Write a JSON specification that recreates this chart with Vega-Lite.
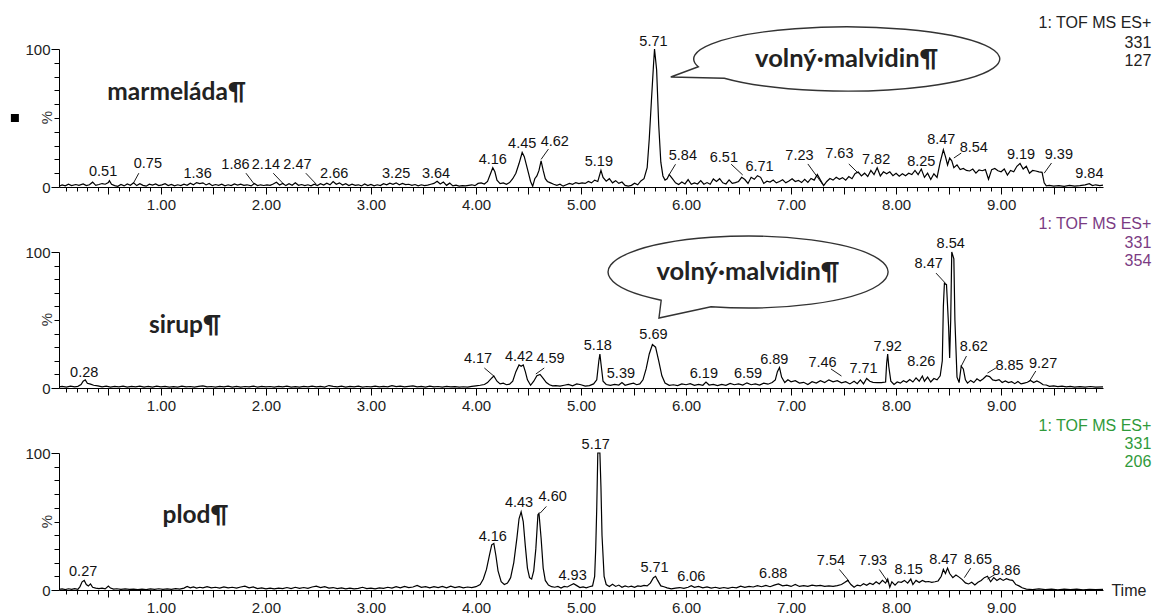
{
  "$schema": "https://vega.github.io/schema/vega-lite/v6.json",
  "background": "white",
  "padding": {"left": 10, "top": 15, "right": 0, "bottom": 0},
  "spacing": 65,
  "bounds": "flush",
  "config": {
    "view": {"stroke": null},
    "axis": {
      "grid": false,
      "domainColor": "#000",
      "tickColor": "#000",
      "labelFont": "Liberation Sans",
      "labelFontSize": 15,
      "labelColor": "#222",
      "titleFont": "Liberation Sans",
      "titleFontWeight": "normal",
      "titleColor": "#333"
    }
  },
  "datasets": {
    "p1": [
      {"t":0.03,"v":0.5},{"t":0.06,"v":1.5},{"t":0.09,"v":0.8},{"t":0.12,"v":2.0},{"t":0.15,"v":1.0},{"t":0.19,"v":1.8},{"t":0.22,"v":1.2},{"t":0.26,"v":2.2},{"t":0.29,"v":1.0},{"t":0.32,"v":1.6},{"t":0.35,"v":3.5},{"t":0.38,"v":1.2},{"t":0.41,"v":1.8},{"t":0.44,"v":2.5},{"t":0.47,"v":2.0},{"t":0.50,"v":3.2},{"t":0.51,"v":4.5},{"t":0.53,"v":2.0},{"t":0.56,"v":1.0},{"t":0.59,"v":0.5},{"t":0.62,"v":1.8},{"t":0.65,"v":0.8},{"t":0.68,"v":2.2},{"t":0.71,"v":1.2},{"t":0.74,"v":3.0},{"t":0.77,"v":1.0},{"t":0.80,"v":2.4},{"t":0.83,"v":1.2},{"t":0.86,"v":0.6},{"t":0.89,"v":2.0},{"t":0.92,"v":1.4},{"t":0.95,"v":2.2},{"t":0.98,"v":1.0},
      {"t":1.01,"v":1.5},{"t":1.04,"v":2.4},{"t":1.07,"v":1.0},{"t":1.10,"v":1.8},{"t":1.13,"v":0.8},{"t":1.16,"v":1.6},{"t":1.19,"v":1.0},{"t":1.22,"v":2.0},{"t":1.25,"v":1.2},{"t":1.28,"v":2.8},{"t":1.31,"v":1.6},{"t":1.34,"v":3.2},{"t":1.37,"v":2.5},{"t":1.40,"v":3.0},{"t":1.43,"v":1.5},{"t":1.46,"v":2.6},{"t":1.49,"v":1.0},{"t":1.52,"v":1.8},{"t":1.55,"v":1.2},{"t":1.58,"v":2.0},{"t":1.61,"v":0.9},{"t":1.64,"v":1.6},{"t":1.67,"v":1.0},{"t":1.70,"v":2.2},{"t":1.73,"v":1.4},{"t":1.76,"v":2.0},{"t":1.79,"v":1.2},{"t":1.82,"v":1.6},{"t":1.86,"v":0.8},{"t":1.89,"v":2.5},{"t":1.92,"v":1.0},{"t":1.95,"v":1.6},{"t":1.98,"v":1.1},
      {"t":2.01,"v":1.5},{"t":2.04,"v":1.2},{"t":2.07,"v":2.2},{"t":2.10,"v":3.4},{"t":2.13,"v":1.5},{"t":2.16,"v":2.6},{"t":2.19,"v":1.0},{"t":2.22,"v":2.4},{"t":2.25,"v":1.2},{"t":2.28,"v":3.0},{"t":2.31,"v":1.2},{"t":2.34,"v":1.8},{"t":2.37,"v":1.0},{"t":2.40,"v":1.6},{"t":2.43,"v":0.8},{"t":2.46,"v":2.0},{"t":2.49,"v":1.0},{"t":2.52,"v":2.4},{"t":2.55,"v":1.4},{"t":2.58,"v":2.8},{"t":2.61,"v":1.6},{"t":2.64,"v":4.0},{"t":2.67,"v":2.0},{"t":2.70,"v":3.0},{"t":2.73,"v":1.4},{"t":2.76,"v":2.4},{"t":2.79,"v":1.0},{"t":2.82,"v":2.0},{"t":2.85,"v":1.2},{"t":2.88,"v":1.6},{"t":2.91,"v":0.8},{"t":2.94,"v":2.2},{"t":2.97,"v":1.0},
      {"t":3.00,"v":1.8},{"t":3.03,"v":0.8},{"t":3.06,"v":1.6},{"t":3.09,"v":1.0},{"t":3.12,"v":2.4},{"t":3.15,"v":1.6},{"t":3.18,"v":2.8},{"t":3.21,"v":2.0},{"t":3.24,"v":3.0},{"t":3.27,"v":1.6},{"t":3.30,"v":2.6},{"t":3.33,"v":1.8},{"t":3.36,"v":2.0},{"t":3.39,"v":1.2},{"t":3.42,"v":1.8},{"t":3.45,"v":0.8},{"t":3.48,"v":1.6},{"t":3.51,"v":1.0},{"t":3.54,"v":1.4},{"t":3.57,"v":2.0},{"t":3.60,"v":2.6},{"t":3.63,"v":4.2},{"t":3.66,"v":2.2},{"t":3.69,"v":3.6},{"t":3.72,"v":1.2},{"t":3.75,"v":2.8},{"t":3.78,"v":0.8},{"t":3.81,"v":1.4},{"t":3.84,"v":0.6},{"t":3.87,"v":1.0},{"t":3.90,"v":0.8},{"t":3.93,"v":1.2},{"t":3.96,"v":1.6},{"t":3.99,"v":1.0},
      {"t":4.02,"v":2.6},{"t":4.05,"v":3.0},{"t":4.08,"v":2.2},{"t":4.11,"v":4.0},{"t":4.14,"v":10.0},{"t":4.16,"v":14.0},{"t":4.18,"v":11.0},{"t":4.20,"v":5.0},{"t":4.23,"v":2.5},{"t":4.26,"v":3.0},{"t":4.29,"v":2.0},{"t":4.32,"v":3.2},{"t":4.35,"v":6.0},{"t":4.38,"v":10.0},{"t":4.41,"v":17.0},{"t":4.44,"v":25.0},{"t":4.46,"v":22.0},{"t":4.48,"v":16.0},{"t":4.50,"v":10.0},{"t":4.52,"v":4.0},{"t":4.54,"v":0.5},{"t":4.56,"v":6.0},{"t":4.58,"v":8.0},{"t":4.60,"v":12.0},{"t":4.62,"v":19.0},{"t":4.64,"v":12.0},{"t":4.66,"v":6.0},{"t":4.68,"v":4.0},{"t":4.71,"v":3.0},{"t":4.74,"v":2.0},{"t":4.77,"v":1.2},{"t":4.80,"v":2.0},{"t":4.83,"v":0.6},{"t":4.86,"v":1.6},{"t":4.89,"v":2.6},{"t":4.92,"v":2.0},{"t":4.95,"v":3.2},{"t":4.98,"v":2.4},
      {"t":5.01,"v":3.0},{"t":5.04,"v":2.6},{"t":5.07,"v":4.0},{"t":5.10,"v":3.0},{"t":5.13,"v":5.0},{"t":5.16,"v":4.0},{"t":5.19,"v":12.0},{"t":5.21,"v":7.0},{"t":5.24,"v":4.2},{"t":5.27,"v":6.0},{"t":5.30,"v":3.0},{"t":5.33,"v":4.6},{"t":5.36,"v":2.6},{"t":5.39,"v":3.6},{"t":5.42,"v":1.2},{"t":5.45,"v":0.6},{"t":5.48,"v":1.2},{"t":5.51,"v":2.8},{"t":5.54,"v":1.6},{"t":5.57,"v":4.4},{"t":5.60,"v":6.0},{"t":5.63,"v":14.0},{"t":5.65,"v":35.0},{"t":5.67,"v":62.0},{"t":5.69,"v":88.0},{"t":5.70,"v":100.0},{"t":5.72,"v":85.0},{"t":5.74,"v":45.0},{"t":5.76,"v":18.0},{"t":5.78,"v":8.0},{"t":5.80,"v":5.0},{"t":5.82,"v":6.0},{"t":5.84,"v":9.0},{"t":5.87,"v":6.0},{"t":5.90,"v":3.0},{"t":5.93,"v":1.8},{"t":5.96,"v":3.6},{"t":5.99,"v":2.2},
      {"t":6.02,"v":5.4},{"t":6.05,"v":2.0},{"t":6.08,"v":3.0},{"t":6.11,"v":2.2},{"t":6.14,"v":4.6},{"t":6.17,"v":2.0},{"t":6.20,"v":3.2},{"t":6.23,"v":2.0},{"t":6.26,"v":5.8},{"t":6.29,"v":4.0},{"t":6.32,"v":6.0},{"t":6.35,"v":3.0},{"t":6.38,"v":2.2},{"t":6.41,"v":5.2},{"t":6.44,"v":2.6},{"t":6.47,"v":3.2},{"t":6.50,"v":4.0},{"t":6.53,"v":7.0},{"t":6.56,"v":5.4},{"t":6.59,"v":2.6},{"t":6.62,"v":7.0},{"t":6.65,"v":5.6},{"t":6.68,"v":8.2},{"t":6.71,"v":7.0},{"t":6.74,"v":2.6},{"t":6.77,"v":4.2},{"t":6.80,"v":3.6},{"t":6.83,"v":5.0},{"t":6.86,"v":3.0},{"t":6.89,"v":4.0},{"t":6.92,"v":5.2},{"t":6.95,"v":3.0},{"t":6.98,"v":4.4},
      {"t":7.01,"v":6.0},{"t":7.04,"v":4.0},{"t":7.07,"v":4.8},{"t":7.10,"v":3.2},{"t":7.13,"v":5.6},{"t":7.16,"v":3.4},{"t":7.19,"v":6.2},{"t":7.22,"v":5.0},{"t":7.25,"v":9.0},{"t":7.28,"v":5.0},{"t":7.31,"v":1.0},{"t":7.34,"v":4.0},{"t":7.37,"v":6.2},{"t":7.40,"v":5.0},{"t":7.43,"v":7.0},{"t":7.46,"v":5.6},{"t":7.49,"v":6.8},{"t":7.52,"v":5.0},{"t":7.55,"v":7.6},{"t":7.58,"v":6.0},{"t":7.61,"v":9.8},{"t":7.64,"v":10.8},{"t":7.67,"v":8.0},{"t":7.70,"v":10.0},{"t":7.73,"v":7.6},{"t":7.76,"v":12.0},{"t":7.79,"v":9.0},{"t":7.82,"v":14.0},{"t":7.85,"v":8.0},{"t":7.88,"v":11.0},{"t":7.91,"v":9.6},{"t":7.94,"v":11.0},{"t":7.97,"v":8.2},
      {"t":8.00,"v":10.0},{"t":8.03,"v":7.8},{"t":8.06,"v":9.6},{"t":8.09,"v":8.2},{"t":8.12,"v":10.0},{"t":8.15,"v":9.0},{"t":8.18,"v":12.0},{"t":8.21,"v":9.0},{"t":8.24,"v":13.0},{"t":8.27,"v":7.0},{"t":8.30,"v":10.0},{"t":8.33,"v":5.4},{"t":8.36,"v":9.6},{"t":8.39,"v":7.0},{"t":8.42,"v":18.0},{"t":8.45,"v":27.0},{"t":8.47,"v":22.0},{"t":8.49,"v":16.0},{"t":8.51,"v":21.0},{"t":8.53,"v":19.0},{"t":8.55,"v":14.0},{"t":8.58,"v":16.0},{"t":8.61,"v":12.6},{"t":8.64,"v":13.4},{"t":8.67,"v":12.0},{"t":8.70,"v":11.6},{"t":8.73,"v":13.0},{"t":8.76,"v":10.0},{"t":8.79,"v":12.4},{"t":8.82,"v":11.8},{"t":8.85,"v":12.6},{"t":8.88,"v":5.6},{"t":8.91,"v":12.6},{"t":8.94,"v":13.4},{"t":8.97,"v":11.8},
      {"t":9.00,"v":11.0},{"t":9.03,"v":13.0},{"t":9.06,"v":8.6},{"t":9.09,"v":12.0},{"t":9.12,"v":11.0},{"t":9.15,"v":15.0},{"t":9.18,"v":17.0},{"t":9.21,"v":13.0},{"t":9.24,"v":15.0},{"t":9.27,"v":10.0},{"t":9.30,"v":12.0},{"t":9.33,"v":11.6},{"t":9.36,"v":11.0},{"t":9.39,"v":10.6},{"t":9.41,"v":3.0},{"t":9.43,"v":0.8},{"t":9.46,"v":1.2},{"t":9.50,"v":0.6},{"t":9.55,"v":1.0},{"t":9.60,"v":0.4},{"t":9.65,"v":1.2},{"t":9.70,"v":0.6},{"t":9.75,"v":1.0},{"t":9.80,"v":1.6},{"t":9.84,"v":2.4},{"t":9.87,"v":1.0},{"t":9.90,"v":1.6},{"t":9.94,"v":1.0},{"t":9.97,"v":1.4}
    ],
    "p2": [
      {"t":0.03,"v":0.8},{"t":0.06,"v":1.2},{"t":0.10,"v":0.6},{"t":0.14,"v":1.4},{"t":0.18,"v":0.8},{"t":0.21,"v":1.2},{"t":0.24,"v":2.5},{"t":0.26,"v":5.0},{"t":0.28,"v":6.0},{"t":0.30,"v":3.5},{"t":0.33,"v":2.8},{"t":0.36,"v":2.0},{"t":0.40,"v":1.5},{"t":0.44,"v":0.8},{"t":0.48,"v":1.4},{"t":0.52,"v":0.6},{"t":0.56,"v":1.2},{"t":0.60,"v":0.8},{"t":0.64,"v":1.4},{"t":0.68,"v":0.6},{"t":0.72,"v":1.2},{"t":0.76,"v":0.8},{"t":0.80,"v":1.4},{"t":0.84,"v":0.7},{"t":0.88,"v":1.2},{"t":0.92,"v":0.6},{"t":0.96,"v":1.3},
      {"t":1.00,"v":0.8},{"t":1.04,"v":1.2},{"t":1.08,"v":0.6},{"t":1.12,"v":1.0},{"t":1.16,"v":0.7},{"t":1.20,"v":1.3},{"t":1.24,"v":0.8},{"t":1.28,"v":1.1},{"t":1.32,"v":0.6},{"t":1.36,"v":1.2},{"t":1.40,"v":1.6},{"t":1.44,"v":0.8},{"t":1.48,"v":1.1},{"t":1.52,"v":0.6},{"t":1.56,"v":1.2},{"t":1.60,"v":0.8},{"t":1.64,"v":1.3},{"t":1.68,"v":0.7},{"t":1.72,"v":1.2},{"t":1.76,"v":0.6},{"t":1.80,"v":1.1},{"t":1.84,"v":0.8},{"t":1.88,"v":1.4},{"t":1.92,"v":0.7},{"t":1.96,"v":1.2},
      {"t":2.00,"v":0.8},{"t":2.04,"v":1.1},{"t":2.08,"v":0.6},{"t":2.12,"v":1.2},{"t":2.16,"v":0.8},{"t":2.20,"v":1.3},{"t":2.24,"v":0.7},{"t":2.28,"v":1.0},{"t":2.32,"v":0.6},{"t":2.36,"v":1.2},{"t":2.40,"v":0.8},{"t":2.44,"v":1.4},{"t":2.48,"v":0.9},{"t":2.52,"v":1.2},{"t":2.56,"v":0.7},{"t":2.60,"v":1.8},{"t":2.64,"v":1.2},{"t":2.68,"v":0.8},{"t":2.72,"v":1.3},{"t":2.76,"v":0.7},{"t":2.80,"v":1.2},{"t":2.84,"v":0.8},{"t":2.88,"v":1.4},{"t":2.92,"v":0.7},{"t":2.96,"v":1.1},
      {"t":3.00,"v":0.8},{"t":3.04,"v":1.3},{"t":3.08,"v":0.8},{"t":3.12,"v":1.2},{"t":3.16,"v":0.9},{"t":3.20,"v":1.8},{"t":3.24,"v":1.0},{"t":3.28,"v":1.4},{"t":3.32,"v":0.8},{"t":3.36,"v":1.2},{"t":3.40,"v":1.6},{"t":3.44,"v":0.8},{"t":3.48,"v":1.2},{"t":3.52,"v":0.7},{"t":3.56,"v":1.3},{"t":3.60,"v":0.8},{"t":3.64,"v":1.1},{"t":3.68,"v":0.6},{"t":3.72,"v":1.2},{"t":3.76,"v":0.8},{"t":3.80,"v":1.0},{"t":3.84,"v":0.6},{"t":3.88,"v":0.9},{"t":3.92,"v":0.7},{"t":3.96,"v":1.2},
      {"t":4.00,"v":1.6},{"t":4.04,"v":2.0},{"t":4.08,"v":2.6},{"t":4.11,"v":4.0},{"t":4.14,"v":6.5},{"t":4.17,"v":8.8},{"t":4.20,"v":5.0},{"t":4.23,"v":3.0},{"t":4.26,"v":3.6},{"t":4.29,"v":2.4},{"t":4.32,"v":2.8},{"t":4.35,"v":5.0},{"t":4.38,"v":12.0},{"t":4.41,"v":17.0},{"t":4.43,"v":16.0},{"t":4.45,"v":17.0},{"t":4.47,"v":12.0},{"t":4.49,"v":6.0},{"t":4.52,"v":2.0},{"t":4.55,"v":5.0},{"t":4.58,"v":9.0},{"t":4.61,"v":10.0},{"t":4.64,"v":7.0},{"t":4.67,"v":4.0},{"t":4.70,"v":2.4},{"t":4.73,"v":1.6},{"t":4.76,"v":1.8},{"t":4.80,"v":1.4},{"t":4.84,"v":2.0},{"t":4.88,"v":2.6},{"t":4.92,"v":1.6},{"t":4.96,"v":3.0},
      {"t":5.00,"v":2.4},{"t":5.04,"v":1.4},{"t":5.08,"v":1.8},{"t":5.12,"v":3.0},{"t":5.15,"v":6.0},{"t":5.17,"v":20.0},{"t":5.18,"v":25.0},{"t":5.19,"v":18.0},{"t":5.21,"v":5.0},{"t":5.24,"v":2.6},{"t":5.28,"v":2.0},{"t":5.32,"v":2.6},{"t":5.36,"v":2.2},{"t":5.39,"v":4.0},{"t":5.42,"v":2.0},{"t":5.46,"v":2.8},{"t":5.50,"v":3.6},{"t":5.53,"v":2.4},{"t":5.56,"v":3.0},{"t":5.59,"v":6.0},{"t":5.62,"v":14.0},{"t":5.65,"v":25.0},{"t":5.68,"v":32.0},{"t":5.71,"v":30.0},{"t":5.74,"v":20.0},{"t":5.77,"v":9.0},{"t":5.80,"v":3.6},{"t":5.84,"v":2.0},{"t":5.88,"v":2.4},{"t":5.92,"v":1.8},{"t":5.96,"v":3.0},
      {"t":6.00,"v":2.4},{"t":6.04,"v":3.2},{"t":6.08,"v":2.0},{"t":6.12,"v":2.6},{"t":6.16,"v":2.0},{"t":6.19,"v":4.4},{"t":6.22,"v":2.2},{"t":6.26,"v":2.6},{"t":6.30,"v":1.8},{"t":6.34,"v":2.6},{"t":6.38,"v":2.0},{"t":6.42,"v":3.4},{"t":6.46,"v":2.4},{"t":6.50,"v":3.0},{"t":6.54,"v":2.2},{"t":6.58,"v":3.8},{"t":6.62,"v":2.4},{"t":6.66,"v":3.0},{"t":6.70,"v":2.2},{"t":6.74,"v":3.6},{"t":6.78,"v":2.8},{"t":6.82,"v":4.0},{"t":6.85,"v":6.0},{"t":6.87,"v":12.0},{"t":6.89,"v":15.0},{"t":6.91,"v":8.0},{"t":6.94,"v":4.0},{"t":6.97,"v":6.0},
      {"t":7.00,"v":4.6},{"t":7.04,"v":5.4},{"t":7.08,"v":3.6},{"t":7.12,"v":4.2},{"t":7.16,"v":2.6},{"t":7.20,"v":4.6},{"t":7.24,"v":3.6},{"t":7.28,"v":5.4},{"t":7.32,"v":4.0},{"t":7.36,"v":6.0},{"t":7.40,"v":4.6},{"t":7.44,"v":5.4},{"t":7.48,"v":3.8},{"t":7.52,"v":4.6},{"t":7.56,"v":3.0},{"t":7.60,"v":5.0},{"t":7.63,"v":3.2},{"t":7.66,"v":6.0},{"t":7.69,"v":3.0},{"t":7.72,"v":7.0},{"t":7.75,"v":5.0},{"t":7.78,"v":4.2},{"t":7.82,"v":4.0},{"t":7.86,"v":4.0},{"t":7.90,"v":4.4},{"t":7.91,"v":18.0},{"t":7.92,"v":25.0},{"t":7.93,"v":16.0},{"t":7.95,"v":5.0},{"t":7.98,"v":2.6},
      {"t":8.01,"v":4.4},{"t":8.04,"v":3.6},{"t":8.07,"v":5.4},{"t":8.10,"v":4.2},{"t":8.13,"v":6.2},{"t":8.16,"v":4.4},{"t":8.19,"v":7.4},{"t":8.22,"v":5.0},{"t":8.25,"v":8.8},{"t":8.27,"v":5.0},{"t":8.30,"v":8.0},{"t":8.33,"v":4.4},{"t":8.36,"v":7.0},{"t":8.39,"v":6.0},{"t":8.42,"v":9.0},{"t":8.44,"v":20.0},{"t":8.45,"v":60.0},{"t":8.46,"v":77.0},{"t":8.48,"v":76.0},{"t":8.50,"v":45.0},{"t":8.51,"v":22.0},{"t":8.52,"v":50.0},{"t":8.53,"v":100.0},{"t":8.55,"v":95.0},{"t":8.56,"v":50.0},{"t":8.58,"v":8.0},{"t":8.60,"v":4.0},{"t":8.62,"v":16.0},{"t":8.64,"v":14.0},{"t":8.66,"v":6.0},{"t":8.68,"v":3.6},{"t":8.71,"v":5.6},{"t":8.74,"v":4.0},{"t":8.77,"v":6.8},{"t":8.80,"v":5.2},{"t":8.83,"v":6.8},{"t":8.86,"v":9.0},{"t":8.89,"v":8.4},{"t":8.92,"v":6.0},{"t":8.95,"v":5.4},{"t":8.98,"v":6.2},
      {"t":9.01,"v":4.0},{"t":9.04,"v":5.2},{"t":9.07,"v":4.0},{"t":9.10,"v":4.6},{"t":9.13,"v":3.2},{"t":9.16,"v":4.8},{"t":9.19,"v":3.0},{"t":9.22,"v":3.6},{"t":9.25,"v":4.2},{"t":9.28,"v":5.6},{"t":9.31,"v":4.0},{"t":9.34,"v":5.2},{"t":9.37,"v":4.0},{"t":9.40,"v":2.4},{"t":9.43,"v":2.2},{"t":9.46,"v":1.2},{"t":9.50,"v":1.6},{"t":9.54,"v":1.0},{"t":9.58,"v":1.4},{"t":9.62,"v":0.8},{"t":9.66,"v":1.2},{"t":9.70,"v":0.6},{"t":9.75,"v":1.0},{"t":9.80,"v":0.6},{"t":9.85,"v":1.1},{"t":9.90,"v":0.6},{"t":9.97,"v":0.8}
    ],
    "p3": [
      {"t":0.03,"v":0.4},{"t":0.06,"v":0.8},{"t":0.09,"v":0.3},{"t":0.12,"v":0.9},{"t":0.15,"v":0.4},{"t":0.18,"v":1.0},{"t":0.21,"v":0.5},{"t":0.23,"v":2.5},{"t":0.25,"v":6.0},{"t":0.27,"v":7.0},{"t":0.29,"v":4.0},{"t":0.31,"v":3.0},{"t":0.33,"v":4.5},{"t":0.35,"v":2.0},{"t":0.38,"v":1.4},{"t":0.41,"v":1.0},{"t":0.44,"v":1.4},{"t":0.47,"v":0.8},{"t":0.50,"v":2.8},{"t":0.52,"v":1.4},{"t":0.55,"v":0.6},{"t":0.58,"v":0.9},{"t":0.62,"v":0.4},{"t":0.66,"v":0.8},{"t":0.70,"v":0.4},{"t":0.74,"v":0.7},{"t":0.78,"v":0.3},{"t":0.82,"v":0.6},{"t":0.86,"v":0.3},{"t":0.90,"v":0.8},{"t":0.94,"v":0.4},{"t":0.98,"v":0.9},
      {"t":1.02,"v":0.4},{"t":1.06,"v":0.8},{"t":1.10,"v":0.5},{"t":1.14,"v":1.0},{"t":1.18,"v":0.6},{"t":1.22,"v":1.4},{"t":1.25,"v":2.6},{"t":1.28,"v":1.6},{"t":1.31,"v":2.2},{"t":1.34,"v":1.4},{"t":1.37,"v":2.0},{"t":1.40,"v":1.6},{"t":1.44,"v":2.4},{"t":1.48,"v":1.6},{"t":1.52,"v":2.0},{"t":1.56,"v":1.4},{"t":1.60,"v":2.2},{"t":1.64,"v":1.6},{"t":1.68,"v":2.0},{"t":1.72,"v":1.4},{"t":1.76,"v":2.2},{"t":1.80,"v":2.8},{"t":1.84,"v":1.6},{"t":1.88,"v":2.2},{"t":1.92,"v":1.0},{"t":1.96,"v":1.6},
      {"t":2.00,"v":0.8},{"t":2.04,"v":1.4},{"t":2.08,"v":0.8},{"t":2.12,"v":1.4},{"t":2.16,"v":1.0},{"t":2.20,"v":1.8},{"t":2.24,"v":1.0},{"t":2.28,"v":2.0},{"t":2.32,"v":1.2},{"t":2.36,"v":1.8},{"t":2.40,"v":1.2},{"t":2.44,"v":2.2},{"t":2.48,"v":2.8},{"t":2.52,"v":1.8},{"t":2.56,"v":2.4},{"t":2.60,"v":1.4},{"t":2.64,"v":1.8},{"t":2.68,"v":1.0},{"t":2.72,"v":1.6},{"t":2.76,"v":0.8},{"t":2.80,"v":1.4},{"t":2.84,"v":0.8},{"t":2.88,"v":1.2},{"t":2.92,"v":2.0},{"t":2.96,"v":1.0},
      {"t":3.00,"v":1.4},{"t":3.04,"v":0.8},{"t":3.08,"v":1.6},{"t":3.12,"v":1.2},{"t":3.16,"v":2.0},{"t":3.20,"v":1.4},{"t":3.24,"v":2.4},{"t":3.28,"v":1.6},{"t":3.32,"v":2.6},{"t":3.36,"v":1.8},{"t":3.40,"v":2.2},{"t":3.44,"v":3.4},{"t":3.48,"v":2.0},{"t":3.52,"v":2.4},{"t":3.56,"v":1.6},{"t":3.60,"v":2.4},{"t":3.64,"v":1.8},{"t":3.68,"v":2.6},{"t":3.72,"v":1.6},{"t":3.76,"v":2.8},{"t":3.80,"v":1.8},{"t":3.84,"v":2.4},{"t":3.88,"v":1.6},{"t":3.92,"v":2.2},{"t":3.96,"v":1.8},
      {"t":4.00,"v":2.4},{"t":4.04,"v":4.0},{"t":4.07,"v":8.0},{"t":4.10,"v":15.0},{"t":4.13,"v":26.0},{"t":4.15,"v":33.0},{"t":4.17,"v":34.0},{"t":4.19,"v":25.0},{"t":4.21,"v":14.0},{"t":4.24,"v":6.0},{"t":4.27,"v":4.0},{"t":4.30,"v":5.0},{"t":4.33,"v":9.0},{"t":4.36,"v":20.0},{"t":4.39,"v":38.0},{"t":4.41,"v":52.0},{"t":4.43,"v":57.0},{"t":4.45,"v":50.0},{"t":4.47,"v":32.0},{"t":4.49,"v":16.0},{"t":4.51,"v":9.0},{"t":4.53,"v":8.0},{"t":4.55,"v":14.0},{"t":4.57,"v":30.0},{"t":4.59,"v":55.0},{"t":4.60,"v":56.0},{"t":4.62,"v":38.0},{"t":4.64,"v":16.0},{"t":4.66,"v":7.0},{"t":4.69,"v":3.6},{"t":4.72,"v":2.4},{"t":4.75,"v":2.0},{"t":4.78,"v":2.6},{"t":4.81,"v":1.4},{"t":4.84,"v":2.6},{"t":4.87,"v":2.2},{"t":4.90,"v":3.4},{"t":4.93,"v":4.6},{"t":4.96,"v":3.2},{"t":4.99,"v":1.8},
      {"t":5.02,"v":2.2},{"t":5.05,"v":1.6},{"t":5.08,"v":2.4},{"t":5.11,"v":3.0},{"t":5.13,"v":10.0},{"t":5.14,"v":30.0},{"t":5.15,"v":60.0},{"t":5.16,"v":100.0},{"t":5.18,"v":100.0},{"t":5.19,"v":75.0},{"t":5.20,"v":40.0},{"t":5.22,"v":10.0},{"t":5.24,"v":4.0},{"t":5.27,"v":2.6},{"t":5.30,"v":4.2},{"t":5.33,"v":2.6},{"t":5.36,"v":3.6},{"t":5.39,"v":2.0},{"t":5.42,"v":3.0},{"t":5.45,"v":2.2},{"t":5.48,"v":2.8},{"t":5.51,"v":2.0},{"t":5.54,"v":3.0},{"t":5.57,"v":2.6},{"t":5.60,"v":3.4},{"t":5.63,"v":3.0},{"t":5.66,"v":5.0},{"t":5.69,"v":9.0},{"t":5.71,"v":10.0},{"t":5.73,"v":7.0},{"t":5.76,"v":3.0},{"t":5.79,"v":2.4},{"t":5.82,"v":1.6},{"t":5.86,"v":0.8},{"t":5.90,"v":1.4},{"t":5.94,"v":1.8},{"t":5.98,"v":1.2},
      {"t":6.02,"v":2.0},{"t":6.05,"v":3.2},{"t":6.08,"v":2.0},{"t":6.12,"v":2.6},{"t":6.16,"v":1.6},{"t":6.20,"v":2.2},{"t":6.24,"v":1.4},{"t":6.28,"v":2.0},{"t":6.32,"v":1.2},{"t":6.36,"v":1.8},{"t":6.40,"v":1.2},{"t":6.44,"v":2.0},{"t":6.48,"v":1.6},{"t":6.52,"v":2.8},{"t":6.56,"v":2.0},{"t":6.60,"v":2.6},{"t":6.64,"v":2.2},{"t":6.68,"v":3.2},{"t":6.72,"v":2.4},{"t":6.76,"v":3.4},{"t":6.80,"v":2.4},{"t":6.84,"v":3.6},{"t":6.88,"v":4.4},{"t":6.92,"v":3.0},{"t":6.96,"v":3.6},
      {"t":7.00,"v":2.6},{"t":7.04,"v":4.0},{"t":7.08,"v":2.6},{"t":7.12,"v":3.2},{"t":7.16,"v":2.6},{"t":7.20,"v":3.6},{"t":7.24,"v":3.0},{"t":7.28,"v":3.4},{"t":7.32,"v":2.6},{"t":7.36,"v":3.0},{"t":7.40,"v":2.6},{"t":7.44,"v":3.2},{"t":7.48,"v":4.0},{"t":7.51,"v":5.4},{"t":7.54,"v":7.0},{"t":7.57,"v":4.0},{"t":7.60,"v":2.0},{"t":7.63,"v":3.6},{"t":7.66,"v":3.0},{"t":7.69,"v":4.6},{"t":7.72,"v":3.4},{"t":7.75,"v":5.0},{"t":7.78,"v":4.0},{"t":7.81,"v":6.0},{"t":7.84,"v":4.4},{"t":7.87,"v":7.0},{"t":7.90,"v":5.0},{"t":7.92,"v":8.0},{"t":7.94,"v":2.0},{"t":7.96,"v":6.0},{"t":7.99,"v":3.6},
      {"t":8.02,"v":6.0},{"t":8.05,"v":5.6},{"t":8.08,"v":7.0},{"t":8.11,"v":5.0},{"t":8.14,"v":8.0},{"t":8.16,"v":4.0},{"t":8.19,"v":7.0},{"t":8.22,"v":5.4},{"t":8.25,"v":7.0},{"t":8.28,"v":6.0},{"t":8.31,"v":6.2},{"t":8.34,"v":5.6},{"t":8.37,"v":6.0},{"t":8.40,"v":6.6},{"t":8.43,"v":10.0},{"t":8.45,"v":15.0},{"t":8.47,"v":12.0},{"t":8.49,"v":16.0},{"t":8.51,"v":12.0},{"t":8.54,"v":9.0},{"t":8.57,"v":11.0},{"t":8.60,"v":9.4},{"t":8.63,"v":7.6},{"t":8.66,"v":5.2},{"t":8.69,"v":4.4},{"t":8.72,"v":5.6},{"t":8.75,"v":3.6},{"t":8.78,"v":5.6},{"t":8.81,"v":7.0},{"t":8.84,"v":9.0},{"t":8.87,"v":10.0},{"t":8.90,"v":6.0},{"t":8.93,"v":9.0},{"t":8.96,"v":7.0},{"t":8.99,"v":8.4},
      {"t":9.02,"v":7.0},{"t":9.05,"v":8.2},{"t":9.08,"v":7.4},{"t":9.11,"v":7.0},{"t":9.14,"v":4.0},{"t":9.17,"v":3.0},{"t":9.20,"v":1.6},{"t":9.24,"v":0.6},{"t":9.30,"v":0.3},{"t":9.36,"v":0.8},{"t":9.42,"v":0.3},{"t":9.48,"v":0.7},{"t":9.54,"v":0.2},{"t":9.60,"v":0.6},{"t":9.66,"v":0.3},{"t":9.72,"v":0.6},{"t":9.78,"v":0.2},{"t":9.84,"v":0.5},{"t":9.90,"v":0.3},{"t":9.97,"v":0.5}
    ],
    "l1": [
      {"lab":"0.51","t":0.45,"v":10.9},{"lab":"0.75","t":0.876,"v":16.7},{"lab":"1.36","t":1.35,"v":9.4},{"lab":"1.86","t":1.71,"v":16},{"lab":"2.14","t":2.0,"v":16},{"lab":"2.47","t":2.3,"v":16},{"lab":"2.66","t":2.65,"v":9.4},{"lab":"3.25","t":3.24,"v":9.4},{"lab":"3.64","t":3.62,"v":9.4},{"lab":"4.16","t":4.16,"v":19.6},{"lab":"4.45","t":4.44,"v":31},{"lab":"4.62","t":4.75,"v":32.6},{"lab":"5.19","t":5.17,"v":18},{"lab":"5.71","t":5.69,"v":105},{"lab":"5.84","t":5.97,"v":22.5},{"lab":"6.51","t":6.36,"v":21},{"lab":"6.71","t":6.7,"v":14.5},{"lab":"7.23","t":7.08,"v":22.5},{"lab":"7.63","t":7.46,"v":23.9},{"lab":"7.82","t":7.81,"v":19.6},{"lab":"8.25","t":8.24,"v":18},{"lab":"8.47","t":8.43,"v":34},{"lab":"8.54","t":8.74,"v":28},{"lab":"9.19","t":9.19,"v":23},{"lab":"9.39","t":9.55,"v":23},{"lab":"9.84","t":9.84,"v":9.4}
    ],
    "k1": [
      {"t":0.79,"v":10,"t2":0.74,"v2":3},{"t":1.81,"v":10,"t2":1.89,"v2":2},{"t":2.07,"v":10,"t2":2.17,"v2":2},{"t":2.38,"v":10,"t2":2.48,"v2":2},{"t":4.69,"v":27.5,"t2":4.62,"v2":20},{"t":5.9,"v":16.5,"t2":5.84,"v2":9},{"t":6.43,"v":16.5,"t2":6.54,"v2":8.7},{"t":7.16,"v":16.7,"t2":7.3,"v2":2},{"t":7.55,"v":16.7,"t2":7.64,"v2":10},{"t":8.62,"v":24.6,"t2":8.55,"v2":21},{"t":9.48,"v":17.4,"t2":9.41,"v2":10}
    ],
    "l2": [
      {"lab":"0.28","t":0.27,"v":11},{"lab":"4.17","t":4.02,"v":21},{"lab":"4.42","t":4.41,"v":22.8},{"lab":"4.59","t":4.71,"v":21},{"lab":"5.18","t":5.16,"v":31},{"lab":"5.39","t":5.38,"v":10.3},{"lab":"5.69","t":5.69,"v":39},{"lab":"6.19","t":6.17,"v":10.3},{"lab":"6.59","t":6.59,"v":10.3},{"lab":"6.89","t":6.84,"v":20.6},{"lab":"7.46","t":7.3,"v":18.4},{"lab":"7.71","t":7.69,"v":14},{"lab":"7.92","t":7.92,"v":30},{"lab":"8.26","t":8.24,"v":19},{"lab":"8.47","t":8.31,"v":91},{"lab":"8.54","t":8.52,"v":106},{"lab":"8.62","t":8.74,"v":30},{"lab":"8.85","t":9.08,"v":16},{"lab":"9.27","t":9.4,"v":17.6}
    ],
    "k2": [
      {"t":4.08,"v":14.7,"t2":4.17,"v2":8.8},{"t":4.65,"v":14.7,"t2":4.57,"v2":10.3},{"t":7.38,"v":14,"t2":7.48,"v2":8.8},{"t":8.38,"v":84.5,"t2":8.47,"v2":77},{"t":8.67,"v":23.5,"t2":8.62,"v2":16},{"t":8.95,"v":14.7,"t2":8.87,"v2":11},{"t":9.33,"v":12.5,"t2":9.27,"v2":5}
    ],
    "l3": [
      {"lab":"0.27","t":0.26,"v":13},{"lab":"4.16","t":4.16,"v":39},{"lab":"4.43","t":4.41,"v":63.5},{"lab":"4.60","t":4.73,"v":68},{"lab":"4.93","t":4.92,"v":10},{"lab":"5.17","t":5.14,"v":106},{"lab":"5.71","t":5.7,"v":16},{"lab":"6.06","t":6.05,"v":9.5},{"lab":"6.88","t":6.83,"v":11.7},{"lab":"7.54","t":7.38,"v":21},{"lab":"7.93","t":7.78,"v":21},{"lab":"8.15","t":8.12,"v":14.6},{"lab":"8.47","t":8.45,"v":22},{"lab":"8.65","t":8.78,"v":22},{"lab":"8.86","t":9.05,"v":14}
    ],
    "k3": [
      {"t":4.67,"v":61,"t2":4.61,"v2":56},{"t":7.46,"v":15,"t2":7.55,"v2":6.6},{"t":7.84,"v":15,"t2":7.93,"v2":5},{"t":8.71,"v":16,"t2":8.65,"v2":9},{"t":8.95,"v":11.7,"t2":8.87,"v2":8}
    ],
    "n1": [{"txt":"marmeláda¶","t":1.15,"v":68}],
    "n2": [{"txt":"sirup¶","t":1.23,"v":45.6}],
    "n3": [{"txt":"plod¶","t":1.33,"v":54}],
    "m1": [{"txt":"1: TOF MS ES+","t":10.43,"v":118.8},{"txt":"331","t":10.43,"v":104.6},{"txt":"127","t":10.43,"v":91.3}],
    "m2": [{"txt":"1: TOF MS ES+","t":10.43,"v":120.6},{"txt":"331","t":10.43,"v":106.8},{"txt":"354","t":10.43,"v":93.4}],
    "m3": [{"txt":"1: TOF MS ES+","t":10.43,"v":119.7},{"txt":"331","t":10.43,"v":106.8},{"txt":"206","t":10.43,"v":93.6}],
    "b1": [{"txt":"volný·malvidin¶","t":7.53,"v":92.8}],
    "b2": [{"txt":"volný·malvidin¶","t":6.59,"v":85.3}],
    "q1": [{"t":-0.39,"v":50}],
    "tm": [{"txt":"Time","t":10.05,"v":-0.7}]
  },
  "vconcat": [
    {
      "width": 1044,
      "height": 138,
      "encoding": {
        "x": {"field": "t", "type": "quantitative", "scale": {"domain": [0.03, 9.97], "nice": false, "zero": false},
          "axis": {"title": null, "values": [0.1,0.2,0.3,0.4,0.5,0.6,0.7,0.8,0.9,1,1.1,1.2,1.3,1.4,1.5,1.6,1.7,1.8,1.9,2,2.1,2.2,2.3,2.4,2.5,2.6,2.7,2.8,2.9,3,3.1,3.2,3.3,3.4,3.5,3.6,3.7,3.8,3.9,4,4.1,4.2,4.3,4.4,4.5,4.6,4.7,4.8,4.9,5,5.1,5.2,5.3,5.4,5.5,5.6,5.7,5.8,5.9,6,6.1,6.2,6.3,6.4,6.5,6.6,6.7,6.8,6.9,7,7.1,7.2,7.3,7.4,7.5,7.6,7.7,7.8,7.9,8,8.1,8.2,8.3,8.4,8.5,8.6,8.7,8.8,8.9,9,9.1,9.2,9.3,9.4,9.5,9.6,9.7,9.8,9.9],
            "labelExpr": "abs(datum.value - round(datum.value)) < 0.01 ? format(datum.value, '.2f') : ''",
            "tickSize": {"condition": {"test": "abs(datum.value * 2 - round(datum.value * 2)) < 0.01", "value": 7}, "value": 4},
            "labelOverlap": false, "labelFlush": false, "labelPadding": 3}},
        "y": {"field": "v", "type": "quantitative", "scale": {"domain": [0, 100], "nice": false, "zero": false},
          "axis": {"title": "%", "titleAngle": -90, "titleX": -13, "titleY": 68, "titleBaseline": "middle", "titleAlign": "center", "titleFontSize": 15,
            "values": [0,10,20,30,40,50,60,70,80,90,100],
            "labelExpr": "datum.value == 0 || datum.value == 100 ? datum.label : ''",
            "tickSize": {"condition": {"test": "datum.value == 0 || datum.value == 100", "value": 8}, "value": 5},
            "labelOverlap": false, "labelFlush": false, "labelPadding": 1}}
      },
      "layer": [
        {"data": {"name": "p1"}, "mark": {"type": "line", "color": "#000", "strokeWidth": 1.2}},
        {"data": {"name": "k1"}, "mark": {"type": "rule", "color": "#000", "strokeWidth": 0.9}, "encoding": {"x2": {"field": "t2"}, "y2": {"field": "v2"}}},
        {"data": {"name": "l1"}, "mark": {"type": "text", "font": "Liberation Sans", "fontSize": 14.5, "color": "#111"}, "encoding": {"text": {"field": "lab"}}},
        {"data": {"name": "n1"}, "mark": {"type": "text", "font": "Lato", "fontWeight": "bold", "fontSize": 24.5, "color": "#222"}, "encoding": {"text": {"field": "txt"}}},
        {"data": {"name": "m1"}, "mark": {"type": "text", "align": "right", "font": "Liberation Sans", "fontSize": 16, "color": "#222"}, "encoding": {"text": {"field": "txt"}}},
        {"data": {"name": "b1"}, "mark": {"type": "point", "shape": "M -0.97 0.051 L -1.15 0.118 L -0.8 0.126 A 1 0.21 0 1 0 -0.97 0.051 Z", "size": 93636, "filled": true, "fill": "#fff", "stroke": "#333", "strokeWidth": 1.4, "opacity": 1}},
        {"data": {"name": "b1"}, "mark": {"type": "text", "font": "Lato", "fontWeight": "bold", "fontSize": 25.5, "color": "#222"}, "encoding": {"text": {"field": "txt"}}},
        {"data": {"name": "q1"}, "mark": {"type": "point", "shape": "square", "size": 64, "filled": true, "color": "#000", "opacity": 1}}
      ]
    },
    {
      "width": 1044,
      "height": 136,
      "encoding": {
        "x": {"field": "t", "type": "quantitative", "scale": {"domain": [0.03, 9.97], "nice": false, "zero": false},
          "axis": {"title": null, "values": [0.1,0.2,0.3,0.4,0.5,0.6,0.7,0.8,0.9,1,1.1,1.2,1.3,1.4,1.5,1.6,1.7,1.8,1.9,2,2.1,2.2,2.3,2.4,2.5,2.6,2.7,2.8,2.9,3,3.1,3.2,3.3,3.4,3.5,3.6,3.7,3.8,3.9,4,4.1,4.2,4.3,4.4,4.5,4.6,4.7,4.8,4.9,5,5.1,5.2,5.3,5.4,5.5,5.6,5.7,5.8,5.9,6,6.1,6.2,6.3,6.4,6.5,6.6,6.7,6.8,6.9,7,7.1,7.2,7.3,7.4,7.5,7.6,7.7,7.8,7.9,8,8.1,8.2,8.3,8.4,8.5,8.6,8.7,8.8,8.9,9,9.1,9.2,9.3,9.4,9.5,9.6,9.7,9.8,9.9],
            "labelExpr": "abs(datum.value - round(datum.value)) < 0.01 ? format(datum.value, '.2f') : ''",
            "tickSize": {"condition": {"test": "abs(datum.value * 2 - round(datum.value * 2)) < 0.01", "value": 7}, "value": 4},
            "labelOverlap": false, "labelFlush": false, "labelPadding": 3}},
        "y": {"field": "v", "type": "quantitative", "scale": {"domain": [0, 100], "nice": false, "zero": false},
          "axis": {"title": "%", "titleAngle": -90, "titleX": -13, "titleY": 67, "titleBaseline": "middle", "titleAlign": "center", "titleFontSize": 15,
            "values": [0,10,20,30,40,50,60,70,80,90,100],
            "labelExpr": "datum.value == 0 || datum.value == 100 ? datum.label : ''",
            "tickSize": {"condition": {"test": "datum.value == 0 || datum.value == 100", "value": 8}, "value": 5},
            "labelOverlap": false, "labelFlush": false, "labelPadding": 1}}
      },
      "layer": [
        {"data": {"name": "p2"}, "mark": {"type": "line", "color": "#000", "strokeWidth": 1.2}},
        {"data": {"name": "k2"}, "mark": {"type": "rule", "color": "#000", "strokeWidth": 0.9}, "encoding": {"x2": {"field": "t2"}, "y2": {"field": "v2"}}},
        {"data": {"name": "l2"}, "mark": {"type": "text", "font": "Liberation Sans", "fontSize": 14.5, "color": "#111"}, "encoding": {"text": {"field": "lab"}}},
        {"data": {"name": "n2"}, "mark": {"type": "text", "font": "Lato", "fontWeight": "bold", "fontSize": 24.5, "color": "#222"}, "encoding": {"text": {"field": "txt"}}},
        {"data": {"name": "m2"}, "mark": {"type": "text", "align": "right", "font": "Liberation Sans", "fontSize": 16, "color": "#7b3b83"}, "encoding": {"text": {"field": "txt"}}},
        {"data": {"name": "b2"}, "mark": {"type": "point", "shape": "M -0.62 0.2017 L -0.636 0.329 L -0.264 0.248 A 1 0.257 0 1 0 -0.62 0.2017 Z", "size": 78400, "filled": true, "fill": "#fff", "stroke": "#333", "strokeWidth": 1.4, "opacity": 1}},
        {"data": {"name": "b2"}, "mark": {"type": "text", "font": "Lato", "fontWeight": "bold", "fontSize": 25.5, "color": "#222"}, "encoding": {"text": {"field": "txt"}}}
      ]
    },
    {
      "width": 1044,
      "height": 137,
      "encoding": {
        "x": {"field": "t", "type": "quantitative", "scale": {"domain": [0.03, 9.97], "nice": false, "zero": false},
          "axis": {"title": null, "values": [0.1,0.2,0.3,0.4,0.5,0.6,0.7,0.8,0.9,1,1.1,1.2,1.3,1.4,1.5,1.6,1.7,1.8,1.9,2,2.1,2.2,2.3,2.4,2.5,2.6,2.7,2.8,2.9,3,3.1,3.2,3.3,3.4,3.5,3.6,3.7,3.8,3.9,4,4.1,4.2,4.3,4.4,4.5,4.6,4.7,4.8,4.9,5,5.1,5.2,5.3,5.4,5.5,5.6,5.7,5.8,5.9,6,6.1,6.2,6.3,6.4,6.5,6.6,6.7,6.8,6.9,7,7.1,7.2,7.3,7.4,7.5,7.6,7.7,7.8,7.9,8,8.1,8.2,8.3,8.4,8.5,8.6,8.7,8.8,8.9,9,9.1,9.2,9.3,9.4,9.5,9.6,9.7,9.8,9.9],
            "labelExpr": "abs(datum.value - round(datum.value)) < 0.01 ? format(datum.value, '.2f') : ''",
            "tickSize": {"condition": {"test": "abs(datum.value * 2 - round(datum.value * 2)) < 0.01", "value": 7}, "value": 4},
            "labelOverlap": false, "labelFlush": false, "labelPadding": 3}},
        "y": {"field": "v", "type": "quantitative", "scale": {"domain": [0, 100], "nice": false, "zero": false},
          "axis": {"title": "%", "titleAngle": -90, "titleX": -13, "titleY": 68, "titleBaseline": "middle", "titleAlign": "center", "titleFontSize": 15,
            "values": [0,10,20,30,40,50,60,70,80,90,100],
            "labelExpr": "datum.value == 0 || datum.value == 100 ? datum.label : ''",
            "tickSize": {"condition": {"test": "datum.value == 0 || datum.value == 100", "value": 8}, "value": 5},
            "labelOverlap": false, "labelFlush": false, "labelPadding": 1}}
      },
      "layer": [
        {"data": {"name": "p3"}, "mark": {"type": "line", "color": "#000", "strokeWidth": 1.2}},
        {"data": {"name": "k3"}, "mark": {"type": "rule", "color": "#000", "strokeWidth": 0.9}, "encoding": {"x2": {"field": "t2"}, "y2": {"field": "v2"}}},
        {"data": {"name": "l3"}, "mark": {"type": "text", "font": "Liberation Sans", "fontSize": 14.5, "color": "#111"}, "encoding": {"text": {"field": "lab"}}},
        {"data": {"name": "n3"}, "mark": {"type": "text", "font": "Lato", "fontWeight": "bold", "fontSize": 24.5, "color": "#222"}, "encoding": {"text": {"field": "txt"}}},
        {"data": {"name": "m3"}, "mark": {"type": "text", "align": "right", "font": "Liberation Sans", "fontSize": 16, "color": "#2f9a3a"}, "encoding": {"text": {"field": "txt"}}},
        {"data": {"name": "tm"}, "mark": {"type": "text", "align": "left", "font": "Liberation Sans", "fontSize": 16, "color": "#222"}, "encoding": {"text": {"field": "txt"}}}
      ]
    }
  ]
}
